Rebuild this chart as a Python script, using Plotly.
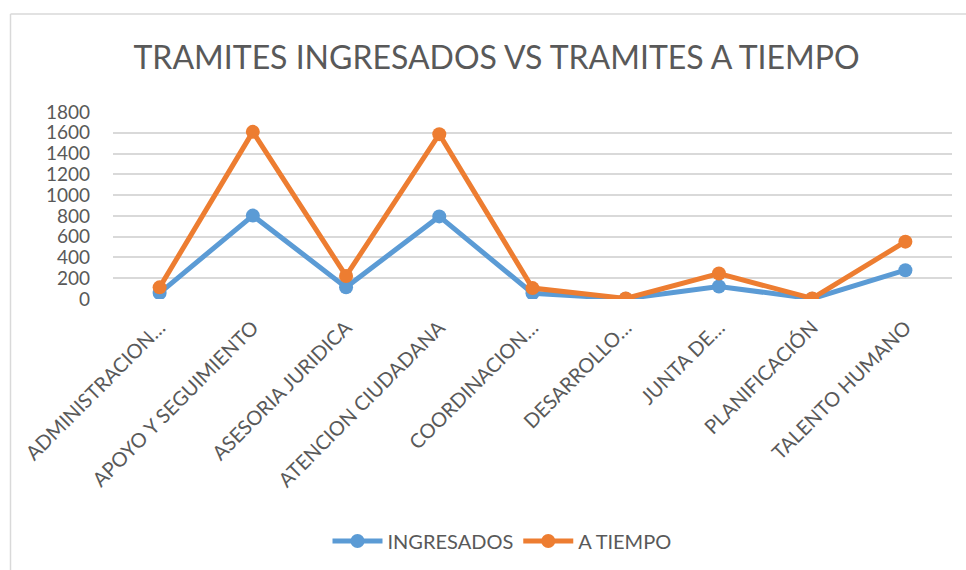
import plotly.graph_objects as go

categories = ["ADMINISTRACION…", "APOYO Y SEGUIMIENTO", "ASESORIA JURIDICA",
              "ATENCION CIUDADANA", "COORDINACION…", "DESARROLLO…",
              "JUNTA DE…", "PLANIFICACIÓN", "TALENTO HUMANO"]
ingresados = [57, 803, 112, 795, 55, 2, 121, 3, 277]
a_tiempo = [112, 1609, 222, 1587, 105, 5, 245, 6, 552]
y_ticks = [0, 200, 400, 600, 800, 1000, 1200, 1400, 1600, 1800]

W, H = 966, 570
L, R, T, B = 113, 14, 112, 270
pw, ph = W - L - R, H - T - B

def px_x(x):
    return (x - L) / pw

def px_y(y):
    return (H - B - y) / ph

FONT = "Lato"
GREY = "#595959"

fig = go.Figure()
fig.add_trace(go.Scatter(x=categories, y=ingresados, name="INGRESADOS", mode="lines+markers",
                         line=dict(color="#5B9BD5", width=5),
                         marker=dict(size=14, color="#5B9BD5")))
fig.add_trace(go.Scatter(x=categories, y=a_tiempo, name="A TIEMPO", mode="lines+markers",
                         line=dict(color="#ED7D31", width=5),
                         marker=dict(size=14, color="#ED7D31")))

fig.update_layout(
    width=W, height=H,
    margin=dict(l=L, r=R, t=T, b=B),
    paper_bgcolor="white", plot_bgcolor="white",
    font=dict(family=FONT, color=GREY),
    title=dict(text="TRAMITES INGRESADOS VS TRAMITES A TIEMPO",
               x=496.5 / W, xanchor="center", xref="container",
               y=1 - 58 / H, yanchor="middle", yref="container",
               font=dict(size=32, color=GREY, family=FONT)),
    showlegend=True,
    legend=dict(orientation="h", x=px_x(502), xanchor="center",
                y=px_y(541), yanchor="middle",
                font=dict(size=20, color=GREY, family=FONT),
                itemwidth=50, tracegroupgap=0),
    xaxis=dict(type="category", range=[-0.5, 8.5], tickangle=-45,
               tickfont=dict(size=20, color=GREY, family=FONT),
               showgrid=False, zeroline=False, showline=False, ticks="",
               ticklabelstandoff=12, automargin=False),
    yaxis=dict(range=[0, 1800], tickvals=y_ticks,
               tickfont=dict(size=19, color=GREY, family=FONT),
               showgrid=True, gridcolor="#D9D9D9", gridwidth=1.5,
               zeroline=False, showline=False, ticks="", ticklabelstandoff=22,
               automargin=False),
    shapes=[
        dict(type="line", xref="paper", yref="paper",
             x0=px_x(10.5), x1=px_x(980), y0=px_y(13.5), y1=px_y(13.5),
             line=dict(color="#D9D9D9", width=1.5)),
        dict(type="line", xref="paper", yref="paper",
             x0=px_x(10.5), x1=px_x(10.5), y0=px_y(13.5), y1=px_y(590),
             line=dict(color="#D9D9D9", width=1.5)),
    ],
)

fig.write_html("out.html", config={"displayModeBar": False},
               post_script="document.body.style.margin='0';document.body.style.padding='0';")
